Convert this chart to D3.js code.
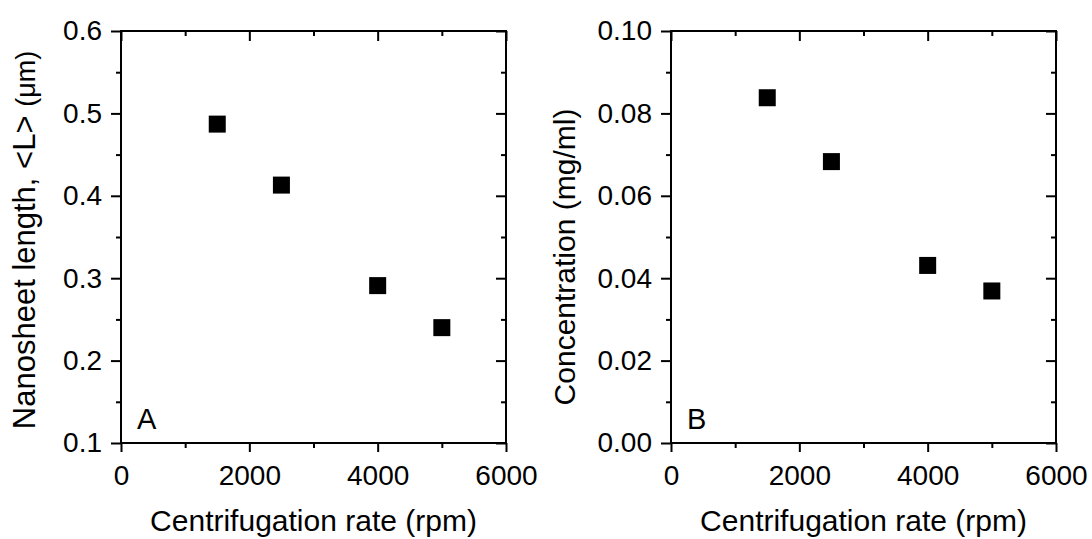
<!DOCTYPE html>
<html>
<head>
<meta charset="utf-8">
<script src="https://cdn.jsdelivr.net/npm/d3@7"></script>
<style>
  html, body { margin: 0; padding: 0; background: #fff; }
  svg { display: block; font-family: "Liberation Sans", Arial, sans-serif; }
</style>
</head>
<body>
<svg id="chart" width="1092" height="539"></svg>
<script>
// ---- data ----
const rpm = [1500, 2500, 4000, 5000];
const lengthUm = [0.487, 0.413, 0.291, 0.240];
const concentration = [0.0838, 0.0683, 0.0431, 0.0369];

const xMajorTicks = [0, 2000, 4000, 6000];
const xMinorTicks = [1000, 3000, 5000];
const yMajorA = [0.1, 0.2, 0.3, 0.4, 0.5, 0.6];
const yMinorA = [0.15, 0.25, 0.35, 0.45, 0.55];
const yMajorB = [0.00, 0.02, 0.04, 0.06, 0.08, 0.10];
const yMinorB = [0.01, 0.03, 0.05, 0.07, 0.09];

const xTitle = "Centrifugation rate (rpm)";
const yTitleA = "Nanosheet length, <L> ";
const yTitleAUnit = "(\u03bcm)";
const yTitleB = "Concentration (mg/ml)";

const svg = d3.select("#chart");

function panel(opts) {
  const { x0, x1, y0, y1, yDomain, yMajor, yMinor, yFmt, values, label } = opts;
  const x = d3.scaleLinear().domain([0, 6000]).range([x0, x1]);
  const y = d3.scaleLinear().domain(yDomain).range([y1, y0]);
  const g = svg.append("g");

  const styleAxis = sel => {
    sel.select(".domain").remove();
    sel.selectAll(".tick line").attr("stroke", "#000").attr("stroke-width", 2);
    sel.selectAll("text").attr("fill", "#000").style("font-family", '"Liberation Sans", Arial, sans-serif');
  };

  // bottom major + minor (outward)
  g.append("g").attr("transform", `translate(0,${y1})`)
    .call(d3.axisBottom(x).tickValues(xMajorTicks).tickSize(9).tickPadding(13).tickFormat(d3.format("d")))
    .call(styleAxis)
    .call(s => s.selectAll("text").style("font-size", "28px"));
  g.append("g").attr("transform", `translate(0,${y1})`)
    .call(d3.axisBottom(x).tickValues(xMinorTicks).tickSize(5).tickFormat(""))
    .call(styleAxis);
  // top (inward)
  g.append("g").attr("transform", `translate(0,${y0})`)
    .call(d3.axisTop(x).tickValues(xMajorTicks).tickSize(-10).tickFormat(""))
    .call(styleAxis);
  g.append("g").attr("transform", `translate(0,${y0})`)
    .call(d3.axisTop(x).tickValues(xMinorTicks).tickSize(-5).tickFormat(""))
    .call(styleAxis);
  // left major + minor (outward)
  g.append("g").attr("transform", `translate(${x0},0)`)
    .call(d3.axisLeft(y).tickValues(yMajor).tickSize(10).tickPadding(9).tickFormat(d3.format(yFmt)))
    .call(styleAxis)
    .call(s => s.selectAll("text").style("font-size", "28px"));
  g.append("g").attr("transform", `translate(${x0},0)`)
    .call(d3.axisLeft(y).tickValues(yMinor).tickSize(5).tickFormat(""))
    .call(styleAxis);
  // right (inward)
  g.append("g").attr("transform", `translate(${x1},0)`)
    .call(d3.axisRight(y).tickValues(yMajor).tickSize(-10).tickFormat(""))
    .call(styleAxis);
  g.append("g").attr("transform", `translate(${x1},0)`)
    .call(d3.axisRight(y).tickValues(yMinor).tickSize(-5).tickFormat(""))
    .call(styleAxis);

  // frame
  g.append("rect")
    .attr("x", x0).attr("y", y0)
    .attr("width", x1 - x0).attr("height", y1 - y0)
    .attr("fill", "none").attr("stroke", "#000").attr("stroke-width", 2);

  // points
  const s = 17;
  g.selectAll("rect.pt").data(rpm.map((r, i) => [r, values[i]]))
    .enter().append("rect").attr("class", "pt")
    .attr("x", d => x(d[0]) - s / 2)
    .attr("y", d => y(d[1]) - s / 2)
    .attr("width", s).attr("height", s)
    .attr("fill", "#000");

  // panel label
  g.append("text").attr("x", x0 + 16).attr("y", y1 - 14)
    .style("font-size", "29px").attr("fill", "#000").text(label);

  // x title
  g.append("text").attr("x", (x0 + x1) / 2).attr("y", 531)
    .attr("text-anchor", "middle").style("font-size", "30px").attr("fill", "#000")
    .text(xTitle);

  return { g, x, y };
}

panel({ x0: 121, x1: 506, y0: 31, y1: 443, yDomain: [0.1, 0.6], yMajor: yMajorA, yMinor: yMinorA,
  yFmt: ".1f", values: lengthUm, label: "A" });
panel({ x0: 671, x1: 1056, y0: 31, y1: 443, yDomain: [0, 0.1], yMajor: yMajorB, yMinor: yMinorB,
  yFmt: ".2f", values: concentration, label: "B" });

// y titles
const tA = svg.append("text")
  .attr("transform", `translate(35,${(52 + 428) / 2}) rotate(-90)`)
  .attr("text-anchor", "middle").style("font-size", "31px").attr("fill", "#000");
tA.append("tspan").text(yTitleA);
tA.append("tspan").style("font-size", "27px").text(yTitleAUnit);

svg.append("text")
  .attr("transform", `translate(575,${(31 + 443) / 2 + 20}) rotate(-90)`)
  .attr("text-anchor", "middle").style("font-size", "30px").attr("fill", "#000")
  .text(yTitleB);
</script>
</body>
</html>
